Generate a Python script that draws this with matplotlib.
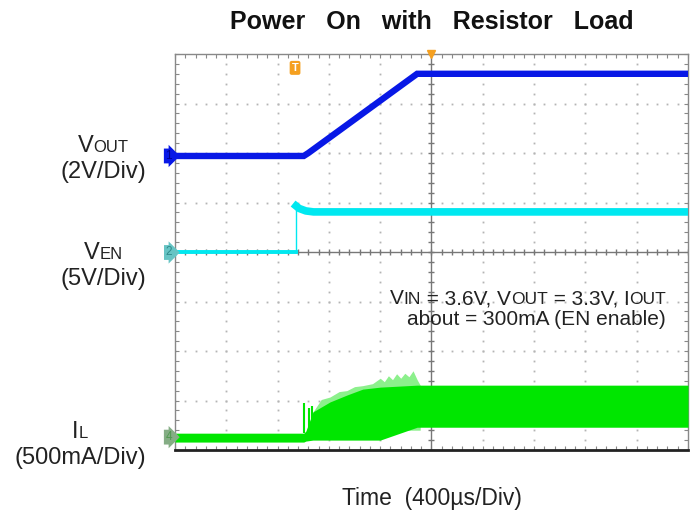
import numpy as np
import matplotlib
matplotlib.use("Agg")
import matplotlib.pyplot as plt
from matplotlib.offsetbox import TextArea, HPacker, VPacker, AnnotationBbox

plt.rcParams['font.family'] = ['Liberation Sans', 'DejaVu Sans']

# scope screen: x and y in divisions (10 x 8 grid, centre = 0)
# VOUT trace (2V/div)
vout_t = [-5.0, -2.49, -2.40, -0.28, 5.0]
vout_v = [1.94, 1.94, 2.00, 3.60, 3.60]

# VEN trace (5V/div)
ven_low_t = [-5.0, -2.64]
ven_low_v = [-0.01, -0.01]
ven_high_t = [-2.64, -2.58, -2.45, -2.30, 5.0]
ven_high_v = [0.93, 0.88, 0.83, 0.81, 0.81]

# IL trace (500mA/div): envelope of the switching ripple
il_t = [-5.0, -2.49, -2.45, -2.31, -1.98, -1.65, -1.34, -1.00, -0.28, 5.0]
il_top = [-3.66, -3.66, -3.62, -3.23, -3.03, -2.89, -2.77, -2.73, -2.69, -2.69]
il_bot = [-3.84, -3.84, -3.82, -3.80, -3.80, -3.80, -3.80, -3.80, -3.54, -3.54]

# lighter peak envelope during soft start
peak_t = [-2.31, -2.15, -1.98, -1.80, -1.65, -1.50, -1.34, -1.15, -1.00, -0.92, -0.84,
          -0.76, -0.68, -0.60, -0.52, -0.44, -0.36, -0.28, -0.22]
peak_v = [-3.23, -2.98, -2.93, -2.82, -2.80, -2.72, -2.70, -2.66, -2.55, -2.62, -2.50,
          -2.58, -2.46, -2.55, -2.45, -2.52, -2.40, -2.58, -2.69]

# individual current spikes at switch-on
spike_t = [-2.49, -2.38, -2.32]
spike_top = [-3.05, -3.15, -3.12]
spike_base = [-3.66, -3.60, -3.50]

blue = '#0818e6'
cyan = '#00e8f0'
green = '#00e600'

fig = plt.figure(figsize=(6.96, 5.14), dpi=100)
ax = fig.add_axes([175 / 696, 64 / 514, 513 / 696, 396 / 514])
ax.set_xlim(-5, 5)
ax.set_ylim(-4, 4)

# dotted grid
fine = np.arange(-4, 4.01, 0.2)
fine_x = np.arange(-5, 5.01, 0.2)
for gx in range(-4, 5):
    if gx != 0:
        ax.plot([gx] * len(fine), fine, ls='none', marker='s', ms=1.3, mew=0,
                color='#b4b4b4', zorder=1)
for gy in range(-3, 4):
    if gy != 0:
        ax.plot(fine_x, [gy] * len(fine_x), ls='none', marker='s', ms=1.3, mew=0,
                color='#b4b4b4', zorder=1)

# centre cross with ticks
ax.axhline(0, color='#777777', lw=1.0, zorder=2)
ax.axvline(0, color='#777777', lw=1.0, zorder=2)
ax.plot(fine_x, [0] * len(fine_x), ls='none', marker='|', ms=5, mew=1, color='#777777', zorder=2)
ax.plot([0] * len(fine), fine, ls='none', marker='_', ms=5, mew=1, color='#777777', zorder=2)

# traces
ax.plot(vout_t, vout_v, color=blue, lw=4.6, solid_joinstyle='miter', zorder=5)
ax.plot(ven_low_t, ven_low_v, color=cyan, lw=2.8, zorder=4)
ax.plot([ven_low_t[-1], ven_high_t[0]], [ven_low_v[-1], ven_high_v[0]], color=cyan, lw=1.0, zorder=4)
ax.plot(ven_high_t, ven_high_v, color=cyan, lw=5.5, zorder=4)
ax.fill_between(peak_t, -3.6, peak_v, color='#8cf08c', lw=0, zorder=3)
ax.fill_between(il_t, il_bot, il_top, color=green, lw=0, zorder=4)
ax.vlines(spike_t, spike_base, spike_top, color=green, lw=1.5, zorder=4)

# frame
ax.set_xticks(np.arange(-5, 5.01, 1))
ax.set_yticks(np.arange(-4, 4.01, 1))
ax.set_xticks(fine_x, minor=True)
ax.set_yticks(fine, minor=True)
ax.tick_params(which='both', direction='in', length=3, width=0.8, color='#888888',
               top=True, right=True, labelbottom=False, labelleft=False)
for s in ['left', 'right', 'top']:
    ax.spines[s].set_color('#888888')
    ax.spines[s].set_linewidth(1.0)
ax.spines['bottom'].set_color('#222222')
ax.spines['bottom'].set_linewidth(2.0)

# channel tags
tag_style = dict(ha='right', va='center', fontsize=8.5, clip_on=False, zorder=6)
ax.text(-5.06, vout_v[0], '1', color='#000090',
        bbox=dict(boxstyle='rarrow,pad=0.12', fc=blue, ec='none'), **tag_style)
ax.text(-5.06, ven_low_v[0], '2', color='#2f8a8a',
        bbox=dict(boxstyle='rarrow,pad=0.12', fc='#66c4c4', ec='none'), **tag_style)
ax.text(-5.06, -3.74, '4', color='#4f9a4f',
        bbox=dict(boxstyle='rarrow,pad=0.12', fc='#85ad85', ec='none'), **tag_style)

# trigger markers
ax.text(-2.66, 3.72, 'T', color='white', fontsize=8, fontweight='bold', ha='center', va='center',
        bbox=dict(boxstyle='round,pad=0.18', fc='#f5a020', ec='none'), zorder=6)
ax.plot([0], [4], marker='v', ms=6, color='#f5a020', clip_on=False, zorder=6)


def pack_row(parts):
    areas = [TextArea(t, textprops=dict(size=s, color='#222222')) for t, s in parts]
    return HPacker(children=areas, align='baseline', pad=0, sep=0)


def channel_label(parts, scale, xy):
    box = VPacker(children=[pack_row(parts),
                            TextArea(scale, textprops=dict(size=17, color='#222222'))],
                  align='center', pad=0, sep=3)
    fig.add_artist(AnnotationBbox(box, xy, xycoords='figure pixels', box_alignment=(1, 0.5),
                                  frameon=False))


channel_label([('V', 17), ('OUT', 12)], '(2V/Div)', (146, 355))
channel_label([('V', 17), ('EN', 12)], '(5V/Div)', (146, 248))
channel_label([('I', 17), ('L', 12)], '(500mA/Div)', (146, 69))

note = VPacker(children=[
    pack_row([('V', 15), ('IN', 12.5), (' = 3.6V, V', 15), ('OUT', 12.5), (' = 3.3V, I', 15), ('OUT', 12.5)]),
    pack_row([('about = 300mA (EN enable)', 15)])], align='right', pad=0, sep=1)
fig.add_artist(AnnotationBbox(note, (666, 205), xycoords='figure pixels', box_alignment=(1, 0.5),
                              frameon=False, zorder=7))

fig.text(432 / 696, 485 / 514, 'Power   On   with   Resistor   Load', ha='center', va='baseline',
         fontsize=18, fontweight='bold', color='#111111')
fig.text(432 / 696, 9 / 514, 'Time  (400\u00b5s/Div)', ha='center', va='baseline',
         fontsize=16.5, color='#222222')

fig.savefig('out.png', dpi=100)
